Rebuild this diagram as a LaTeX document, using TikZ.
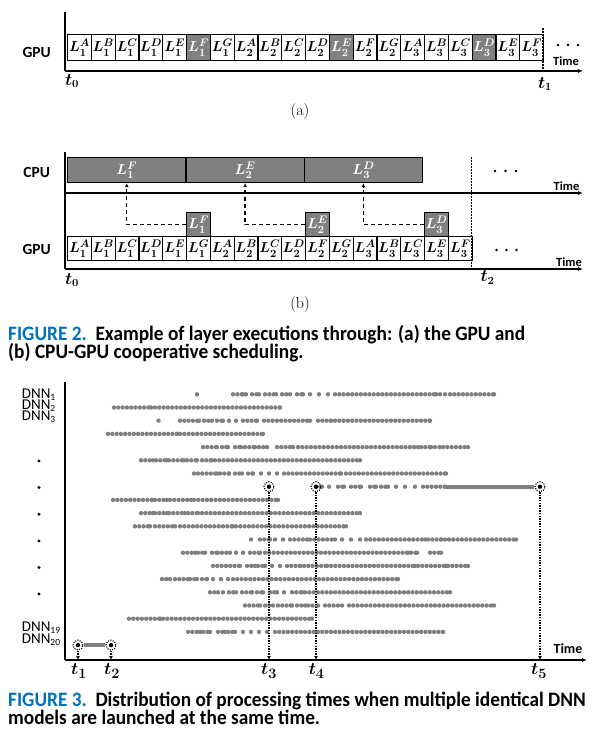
\documentclass[tikz,border=0pt]{standalone}
\usepackage{fontspec}
\usetikzlibrary{arrows.meta,calc}
\newfontfamily\carl{Carlito}
\definecolor{boxgray}{RGB}{128,128,128}
\definecolor{dotgray}{RGB}{128,128,128}
\definecolor{capblue}{RGB}{0,114,188}
\newcommand\beadrow[2]{%
  \foreach \a/\b in {#2} {%
    \pgfmathtruncatemacro\nb{(\b-\a)/4.3}%
    \foreach \k in {0,...,\nb} {\fill[dotgray] ({\a+\k*4.3},#1) circle (2.2);}%
    \fill[dotgray] (\b,#1) circle (2.2);}}
\newcommand\dotset[2]{%
  \foreach \d in {#2} {\fill[dotgray] (\d,#1) circle (2.2);}}
\newcommand\captxt[1]{\scalebox{0.943}[1]{#1}}
\begin{document}
\begin{tikzpicture}[x=1pt,y=-1pt,
  lbox/.style={draw=black, line width=1.2pt, minimum width=23.8pt, inner sep=0pt, anchor=north west, font=\fontsize{15.5}{15.5}\selectfont\boldmath},
  axisl/.style={line width=1.3pt},
  axisar/.style={line width=1.3pt, -{Latex[length=5pt,width=4pt]}},
  vdot/.style={line width=1.5pt, dash pattern=on 1.5pt off 1.5pt},
  conn/.style={line width=1.2pt, dash pattern=on 4pt off 3pt, -{Latex[length=4pt,width=4pt]}},
  sflab/.style={font=\carl\bfseries\fontsize{15.5}{15.5}\selectfont, anchor=base, inner sep=0pt},
  timelab/.style={font=\carl\bfseries\fontsize{12.5}{12.5}\selectfont, inner sep=0pt},
  tlab/.style={font=\fontsize{16}{16}\selectfont\boldmath, inner sep=0pt},
  tlabb/.style={font=\fontsize{19}{19}\selectfont\boldmath, inner sep=0pt},
  sublab/.style={font=\fontsize{16}{16}\selectfont, inner sep=0pt},
  captext/.style={font=\carl\bfseries\fontsize{20.5}{20.5}\selectfont, anchor=base west, inner sep=0pt},
  dnn/.style={font=\carl\fontsize{15}{15}\selectfont, anchor=base west, inner sep=0pt},
  solidrun/.style={draw=dotgray, line width=4pt},
  marker/.style={circle, minimum size=10pt, inner sep=0pt, draw=black, line width=1.1pt, dash pattern=on 1.1pt off 1.3pt},
  tline/.style={line width=1.3pt, dash pattern=on 1.3pt off 1.3pt, -{Latex[length=4pt,width=4pt]}},
  ell/.style={fill=black}
]
\useasboundingbox (0,0) rectangle (601,734);

% ---------------- (a) ----------------
\coordinate (aO) at (65,71);
\coordinate (aTop) at (65,12);
\coordinate (aEnd) at (583,71);
\draw[axisl] (aTop) -- (aO);
\draw[axisar] (aO) -- (aEnd);
\foreach \s/\p/\g [count=\i from 0] in {1/A/0,1/B/0,1/C/0,1/D/0,1/E/0,1/F/1,1/G/0,2/A/0,2/B/0,2/C/0,2/D/0,2/E/1,2/F/0,2/G/0,3/A/0,3/B/0,3/C/0,3/D/1,3/E/0,3/F/0}{
  \ifnum\g=1 \def\fc{boxgray}\def\tc{white}\else\def\fc{white}\def\tc{black}\fi
  \node[lbox, minimum height=26pt, fill=\fc, text=\tc] (a\i) at ({67+23.8*\i},34) {$L_{\s}^{\p}$};
}
\coordinate (t1top) at (543,28);
\coordinate (t1bot) at (543,73);
\draw[vdot] (t1top) -- (t1bot);
\foreach \x in {558,568,578} \fill[ell] (\x,45) circle (1.4);
\node[timelab] (timea) at (566,61.5) {Time};
\node[sflab] (gpua) at (36.7,57.3) {GPU};
\node[tlab] (t0a) at (72,81) {$t_0$};
\node[tlab] (t1a) at (545,84) {$t_1$};
\node[sublab] (sa) at (300,112) {(a)};

% ---------------- (b) ----------------
\coordinate (bTop) at (65,152);
\coordinate (bO) at (65,269);
\coordinate (bEnd) at (583,269);
\coordinate (cO) at (65,193);
\coordinate (cEnd) at (583,193);
\draw[axisl] (bTop) -- (bO);
\draw[axisar] (bO) -- (bEnd);
\draw[axisar] (cO) -- (cEnd);
\foreach \s/\p [count=\i from 0] in {1/A,1/B,1/C,1/D,1/E,1/G,2/A,2/B,2/C,2/D,2/F,2/G,3/A,3/B,3/C,3/E,3/F}{
  \node[lbox, minimum height=24pt, fill=white] (b\i) at ({67+23.8*\i},236) {$L_{\s}^{\p}$};
}
\foreach \s/\p/\k [count=\i] in {1/F/5,2/E/10,3/D/15}{
  \node[lbox, minimum height=24pt, fill=boxgray, text=white] (r\i) at ({67+23.8*\k},212) {$L_{\s}^{\p}$};
  \node[lbox, minimum height=25pt, minimum width=118.33pt, fill=boxgray, text=white] (c\i) at ({67+118.33*(\i-1)},157) {$L_{\s}^{\p}$};
}
\foreach \i in {1,2,3} \draw[conn] (r\i.west) -| (c\i.south);
\coordinate (t2top) at (471.7,157);
\coordinate (t2bot) at (471.7,269);
\draw[vdot] (t2top) -- (t2bot);
\foreach \x in {495,505.5,516} \fill[ell] (\x,171) circle (1.4);
\foreach \x in {496.5,506.5,516.5} \fill[ell] (\x,250) circle (1.4);
\node[timelab] (timec) at (566.5,186) {Time};
\node[timelab] (timeb) at (569,262) {Time};
\node[sflab] (cpub) at (36.7,177) {CPU};
\node[sflab] (gpub) at (36.7,254) {GPU};
\node[tlab] (t0b) at (72,280) {$t_0$};
\node[tlab] (t2b) at (487.5,277.5) {$t_2$};
\node[sublab] (sb) at (300,305) {(b)};

% ---------------- caption 2 ----------------
\node[captext] (cap2a) at (8,340) {\captxt{\textcolor{capblue}{FIGURE 2.}\ \ Example of layer executions through: (a) the GPU and}};
\node[captext] (cap2b) at (8,358.5) {\captxt{(b) CPU-GPU cooperative scheduling.}};

% ---------------- figure 3 ----------------
\coordinate (fTop) at (65,382);
\coordinate (fO) at (65,660);
\coordinate (fEnd) at (587,660);
\draw[axisl] (fTop) -- (fO);
\draw[axisar] (fO) -- (fEnd);
\node[timelab, font=\carl\bfseries\fontsize{14}{14}\selectfont] (timef) at (568,649) {Time};

\node[dnn] (d1) at (21.7,398.3) {DNN\raisebox{-2pt}{\fontsize{9.5}{9.5}\selectfont 1}};
\node[dnn] (d2) at (21.7,409.3) {DNN\raisebox{-2pt}{\fontsize{9.5}{9.5}\selectfont 2}};
\node[dnn] (d3) at (21.7,420) {DNN\raisebox{-2pt}{\fontsize{9.5}{9.5}\selectfont 3}};
\node[dnn] (d19) at (21.7,631.7) {DNN\raisebox{-2pt}{\fontsize{9.5}{9.5}\selectfont 19}};
\node[dnn] (d20) at (21.7,643.3) {DNN\raisebox{-2pt}{\fontsize{9.5}{9.5}\selectfont 20}};
\foreach \y in {461,487.5,514.2,541,567.5,594} \fill[ell] (39,\y) circle (1.6);

% rows
\beadrow{394.3}{233/243,252/259,265/276,282/290,297/303,335/436,450/494}
\dotset{394.3}{197,246,310,319,328,440,445}
\beadrow{407.5}{114/151,155/280}
\beadrow{420.7}{180/199,204/212,217/223,243/257,264/310,318/331,335/430}
\dotset{420.7}{158.5,229,236}
\beadrow{433.9}{108/177,180/263}
\beadrow{447.1}{203/217,222/228,235/241,245/255,259/267,277/293,298/418,421/431,443/468}
\dotset{447.1}{435,439.5}
\beadrow{460.3}{141/153,156/167,169/184,187/197,202/212,215/360}
\beadrow{473.5}{198/217,220/229,235/242,248/253,284/341,346/446}
\dotset{473.5}{194,261,269,277}
\beadrow{486.7}{316/322,338/344,351/361,370/376,381/388,423/445}
\dotset{486.7}{329,396,405,415}
\beadrow{499.9}{113/152,155/167,170/191,194/278}
\beadrow{513.1}{141/153,155/167,169/185,188/198,202/360}
\beadrow{526.3}{135/150,155/175,180/233,236/346}
\beadrow{539.5}{260/270,290/307,310/335,366/425,428/441,449/516}
\dotset{539.5}{251,275,283,342,351,360,445}
\beadrow{552.7}{183/195,198/205,212/218,222/230,250/260,265/408,411/417,430/441}
\dotset{552.7}{236,243}
\beadrow{565.9}{213/240,247/255,258/265,287/300,304/327,331/415,418/446,448/468}
\dotset{565.9}{272,280}
\beadrow{579.1}{162/170,175/188,190/197,202/207,233/398}
\dotset{579.1}{213,221,228}
\beadrow{592.3}{210/218,229/236,242/252,257/263,270/277,292/302,305/450}
\dotset{592.3}{223,284}
\beadrow{605.5}{245/260,265/273,278/292,297/305,308/318,325/342,349/494}
\beadrow{618.7}{129/160,163/312}
\beadrow{631.9}{188/200,203/210,218/225,228/235,275/443}
\dotset{631.9}{243,251,259,267}

% markers
\node[marker] (m1) at (78,645.1) {};
\node[marker] (m2) at (111,645.1) {};
\node[marker] (m3) at (269,486.7) {};
\node[marker] (m4) at (316,486.7) {};
\node[marker] (m5) at (540,486.7) {};
\draw[solidrun] (m1) -- (m2);
\draw[solidrun] (445,486.7) -- (m5);
\foreach \m in {m1,m2,m3,m4,m5} {
  \fill[black] (\m) circle (2.2);
  \draw[tline] (\m.south) -- (\m.south |- fO);
}
\node[tlabb] (lt1) at (79,671) {$t_1$};
\node[tlabb] (lt2) at (112,671) {$t_2$};
\node[tlabb] (lt3) at (269,671) {$t_3$};
\node[tlabb] (lt4) at (316.7,671) {$t_4$};
\node[tlabb] (lt5) at (539,671) {$t_5$};

% ---------------- caption 3 ----------------
\node[captext] (cap3a) at (8,706) {\captxt{\textcolor{capblue}{FIGURE 3.}\ \ Distribution of processing times when multiple identical DNN}};
\node[captext] (cap3b) at (8,724.5) {\captxt{models are launched at the same time.}};
\end{tikzpicture}
\end{document}
